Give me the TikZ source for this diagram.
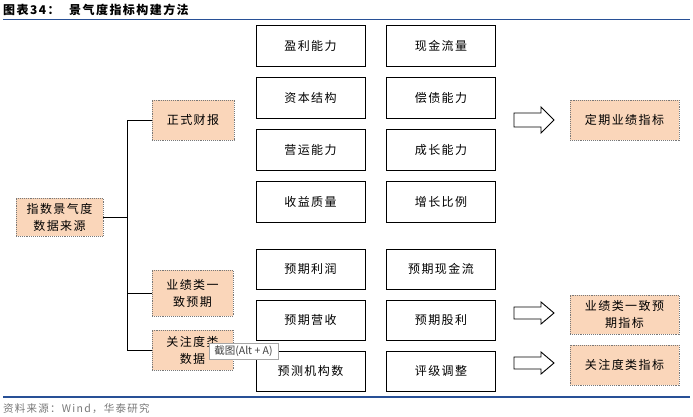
\documentclass[tikz,border=0pt]{standalone}
\usepackage{fontspec}
\newfontfamily\cjk{Noto Sans CJK SC}[LetterSpace=12]
\newfontfamily\cjkplain{Noto Sans CJK SC}
\definecolor{peach}{RGB}{250,214,186}
\definecolor{titleblue}{RGB}{40,80,150}
\definecolor{dotgray}{RGB}{120,120,120}
\definecolor{srcgray}{RGB}{120,120,120}
\tikzset{
  peachbox/.style={draw=dotgray, densely dotted, line width=0.9pt, fill=peach, align=center,
    inner sep=0pt, font=\cjk\fontsize{12}{17}\selectfont},
  gridbox/.style={draw=black, line width=0.9pt, align=center, inner sep=0pt,
    minimum width=109pt, font=\cjk\fontsize{12}{17}\selectfont},
  conn/.style={draw=black, line width=0.9pt},
  blockarrow/.style={draw=black, line width=0.9pt, fill=white},
}
\begin{document}
\begin{tikzpicture}[x=1pt,y=-1pt]
\useasboundingbox (0,0) rectangle (693,417);
% title
\node[anchor=west, inner sep=0pt, font=\cjk\bfseries\fontsize{12}{14}\selectfont] (t1) at (3,10) {图表34：};
\node[anchor=west, inner sep=0pt, font=\cjk\bfseries\fontsize{12}{14}\selectfont] (t2) at (69,10) {景气度指标构建方法};
\draw[titleblue, line width=1.2pt] (3,19.5) -- (690,19.5);
\draw[titleblue, line width=1.2pt] (3,397) -- (690,397);
\node[anchor=west, inner sep=0pt, text=srcgray, font=\cjk\fontsize{10.5}{12}\selectfont] (src) at (3,409) {资料来源：Wind，华泰研究};

% left boxes
\node[peachbox, minimum width=87pt, minimum height=38pt] (root) at (59.5,217) {指数景气度\\数据来源};
\node[peachbox, minimum width=82pt, minimum height=40pt] (fin) at (193,120) {正式财报};
\node[peachbox, minimum width=81pt, minimum height=46pt] (yeji) at (192.5,293) {业绩类一\\致预期};
\node[peachbox, minimum width=81pt, minimum height=40pt] (att) at (192.5,350) {关注度类\\数据};
\coordinate (tx) at (127,0);
\draw[conn] (root.east) -- (root.east -| tx);
\draw[conn] (fin.west) -- (fin.west -| tx) -- (att.west -| tx) -- (att.west);
\draw[conn] (yeji.west -| tx) -- (yeji.west);

% grid
\node[gridbox, minimum height=41pt] (g11) at (310.5,45.5) {盈利能力};
\node[gridbox, minimum height=41pt] (g12) at (441,45.5) {现金流量};
\node[gridbox, minimum height=41pt] (g21) at (310.5,97.5) {资本结构};
\node[gridbox, minimum height=41pt] (g22) at (441,97.5) {偿债能力};
\node[gridbox, minimum height=41pt] (g31) at (310.5,149.5) {营运能力};
\node[gridbox, minimum height=41pt] (g32) at (441,149.5) {成长能力};
\node[gridbox, minimum height=41pt] (g41) at (310.5,201.5) {收益质量};
\node[gridbox, minimum height=41pt] (g42) at (441,201.5) {增长比例};
\node[gridbox, minimum height=40pt] (g51) at (310.5,269) {预期利润};
\node[gridbox, minimum height=40pt] (g52) at (441,269) {预期现金流};
\node[gridbox, minimum height=40pt] (g61) at (310.5,320) {预期营收};
\node[gridbox, minimum height=40pt] (g62) at (441,320) {预期股利};
\node[gridbox, minimum height=40pt] (g71) at (310.5,371) {预测机构数};
\node[gridbox, minimum height=40pt] (g72) at (441,371) {评级调整};

% right boxes
\node[peachbox, minimum width=109pt, minimum height=40pt] (r1) at (624.5,120) {定期业绩指标};
\node[peachbox, minimum width=109pt, minimum height=39pt] (r2) at (624.5,314.5) {业绩类一致预\\期指标};
\node[peachbox, minimum width=109pt, minimum height=40pt] (r3) at (624.5,365) {关注度类指标};

% block arrows
\path[blockarrow] (514,113) -- (541,113) -- (541,107) -- (554,120) -- (541,133) -- (541,127) -- (514,127) -- cycle;
\path[blockarrow] (514,307) -- (541,307) -- (541,302) -- (554,313) -- (541,324) -- (541,319) -- (514,319) -- cycle;
\path[blockarrow] (514,357) -- (541,357) -- (541,352) -- (554,363) -- (541,374) -- (541,369) -- (514,369) -- cycle;

% tooltip overlay
\node[draw=gray!70, fill=white, line width=0.5pt, inner sep=0pt, minimum width=69pt, minimum height=16pt,
  font=\cjkplain\fontsize{10.5}{11}\selectfont, text=black!75] (tip) at (243.5,351) {截图(Alt + A)};
\end{tikzpicture}
\end{document}
